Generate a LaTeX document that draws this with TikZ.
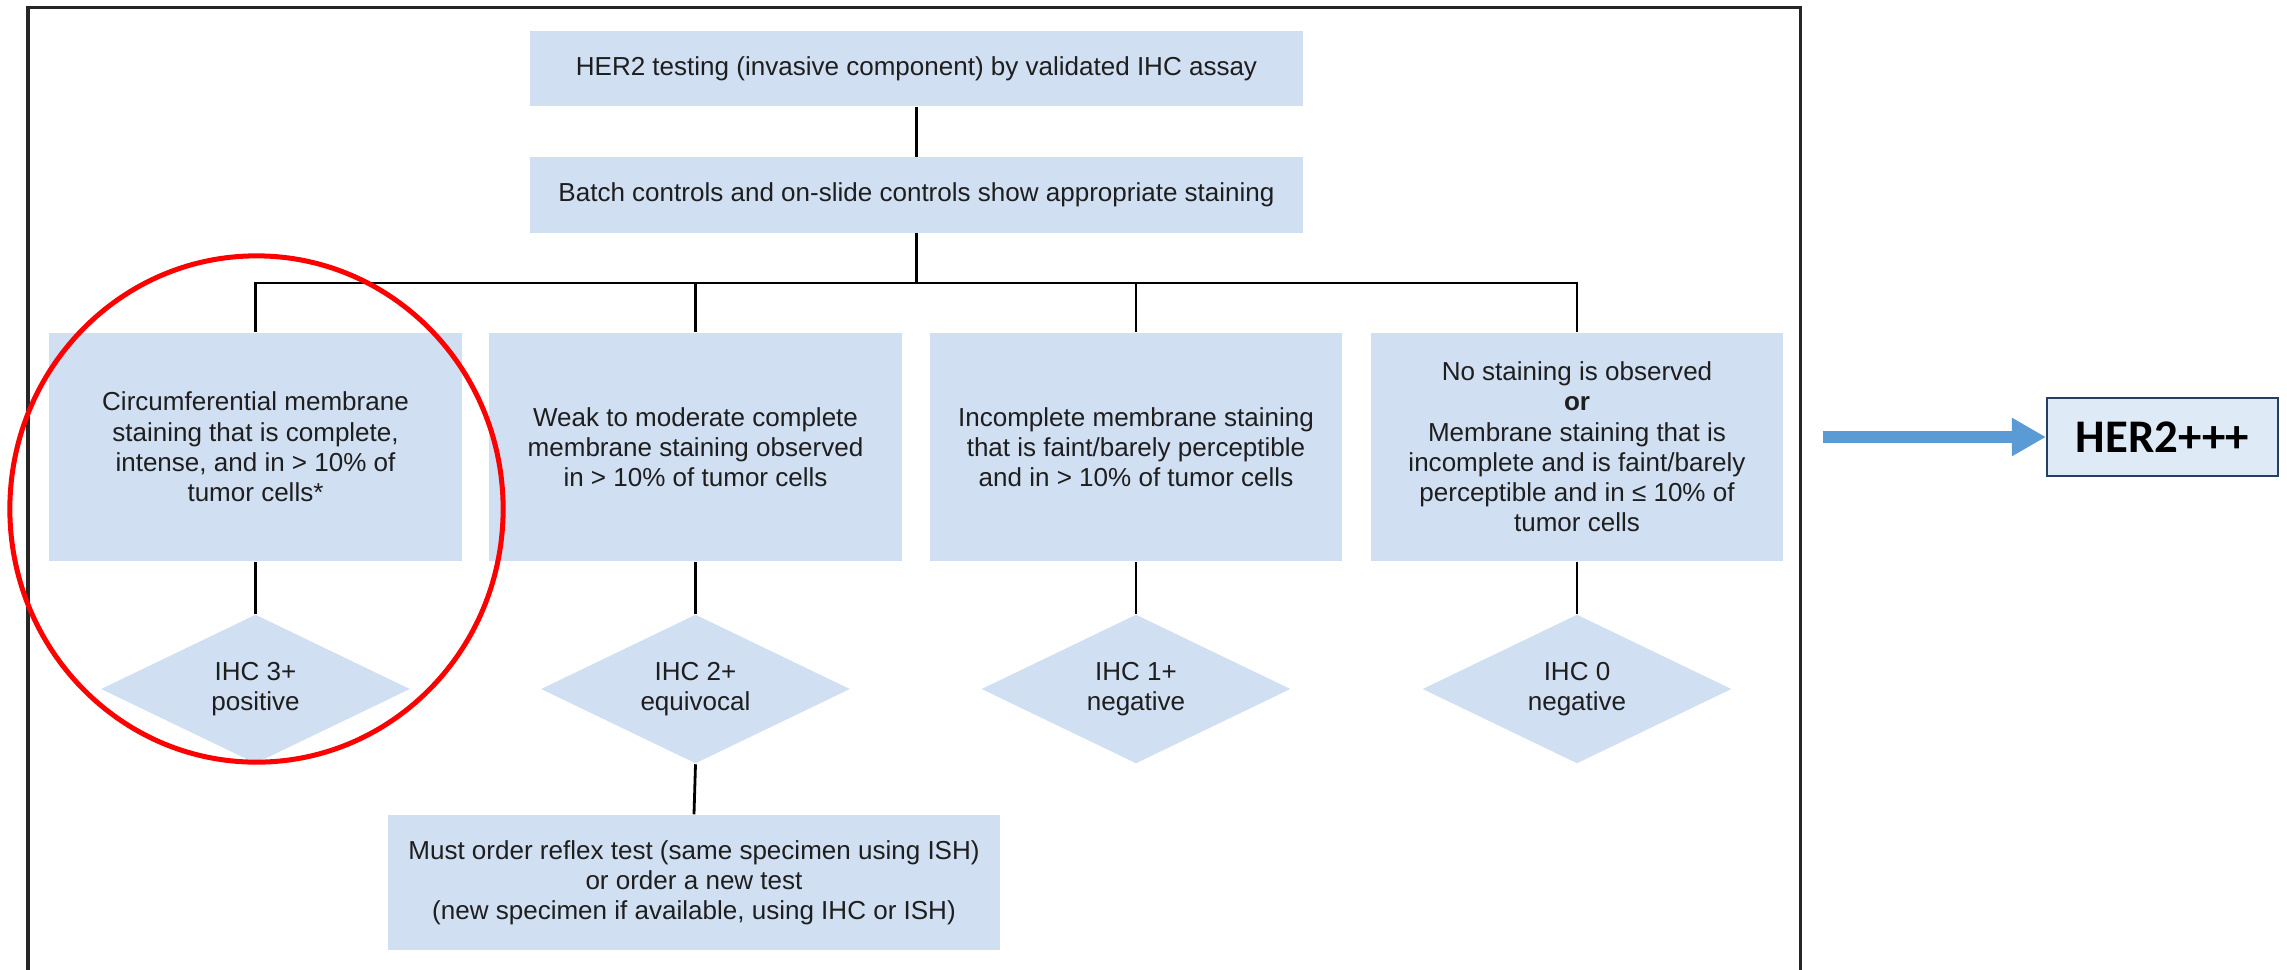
\documentclass[tikz,border=0pt]{standalone}
\usepackage{fontspec}
\setmainfont{Liberation Sans}
\newfontfamily\calfont{Carlito}
\usetikzlibrary{arrows.meta,shapes.geometric}
\definecolor{boxblue}{RGB}{208,223,242}
\definecolor{herfill}{RGB}{222,235,247}
\definecolor{herline}{RGB}{37,64,97}
\definecolor{arrowblue}{RGB}{91,155,213}
\definecolor{txt}{RGB}{30,30,30}
\begin{document}
\begin{tikzpicture}[x=0.01cm,y=-0.01cm,
  flowbox/.style={fill=boxblue, inner sep=0pt, align=center, text=txt,
    font=\fontsize{7.4}{8.6}\selectfont},
  rowbox/.style={flowbox, minimum width=4.12cm, minimum height=2.28cm},
  widebox/.style={flowbox, minimum width=7.73cm, minimum height=0.75cm},
  dia/.style={diamond, aspect=2, fill=boxblue, inner sep=0pt, align=center, text=txt,
    minimum width=3.09cm, minimum height=1.49cm, font=\fontsize{7.4}{8.6}\selectfont},
  link/.style={draw=black, line width=0.028cm},
]
\useasboundingbox (0,0) rectangle (2287,969);
% frame
\draw[line width=0.03cm, draw=black!85] (28,985) -- (28,7) -- (1800,7) -- (1800,985);

% nodes
\node[widebox] (top) at (916.5,68.5) {HER2 testing (invasive component) by validated IHC assay};
\node[widebox] (ctrl) at (916.5,195) {Batch controls and on-slide controls show appropriate staining};

\node[rowbox] (boxA) at (255.5,447) {Circumferential membrane\\staining that is complete,\\intense, and in > 10\% of\\tumor cells*};
\node[rowbox] (boxB) at (695.5,447) {Weak to moderate complete\\membrane staining observed\\in > 10\% of tumor cells};
\node[rowbox] (boxC) at (1136,447) {Incomplete membrane staining\\that is faint/barely perceptible\\and in > 10\% of tumor cells};
\node[rowbox] (boxD) at (1577,447) {No staining is observed\\\textbf{or}\\Membrane staining that is\\incomplete and is faint/barely\\perceptible and in ≤ 10\% of\\tumor cells};

\node[dia] (diaA) at (255.5,689) {IHC 3+\\positive};
\node[dia] (diaB) at (695.5,689) {IHC 2+\\equivocal};
\node[dia] (diaC) at (1136,689) {IHC 1+\\negative};
\node[dia] (diaD) at (1577,689) {IHC 0\\negative};

\node[flowbox, minimum width=6.12cm, minimum height=1.35cm] (reflex) at (694,882.5)
  {Must order reflex test (same specimen using ISH)\\or order a new test\\(new specimen if available, using IHC or ISH)};

\node[draw=herline, line width=0.02cm, fill=herfill, inner sep=0pt,
  minimum width=2.31cm, minimum height=0.78cm,
  font=\calfont\bfseries\fontsize{13.3}{16}\selectfont] (her) at (2162.5,437) {HER2+++};

% connectors
\coordinate (busA) at (255.5,283);
\coordinate (busD) at (1577,283);
\draw[link] (top) -- (ctrl);
\draw[link] (ctrl.south) -- (ctrl.south |- busA);
\draw[link] (boxA.north) -- (busA) -- (busD) -- (boxD.north);
\draw[link] (boxB.north) -- (boxB.north |- busA);
\draw[link] (boxC.north) -- (boxC.north |- busA);
\draw[link] (boxA.south) -- (diaA.north);
\draw[link] (boxB.south) -- (diaB.north);
\draw[link] (boxC.south) -- (diaC.north);
\draw[link] (boxD.south) -- (diaD.north);
\draw[link] (diaB.south) -- (reflex.north);

% highlight ellipse
\node[ellipse, draw=red, line width=0.05cm, inner sep=0pt,
  minimum width=4.93cm, minimum height=5.06cm] (mark) at (256.5,509) {};

% arrow
\coordinate (arrowstart) at (1823,437);
\draw[arrowblue, line width=0.12cm, -{Triangle[length=0.34cm, width=0.36cm]}] (arrowstart) -- (her.west);
\end{tikzpicture}
\end{document}
